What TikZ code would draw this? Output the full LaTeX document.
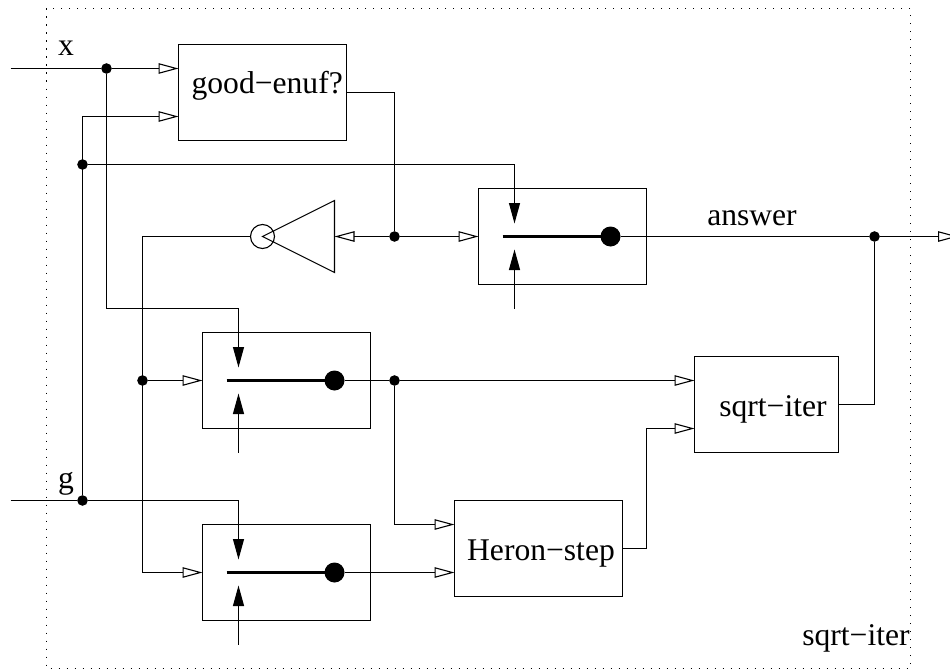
\documentclass[tikz,border=0pt]{standalone}
\usepackage{fontspec}
\setmainfont{Liberation Serif}
\usetikzlibrary{arrows.meta}

\begin{document}
\begin{tikzpicture}[x=1pt, y=-1pt, line width=1.1pt,
  every node/.style = {inner sep=0pt, outer sep=0pt,
    font=\fontsize{31.6}{36}\selectfont},
  unitbox/.style = {shape=rectangle, draw, minimum height=96pt},
  label/.style = {anchor=base},
  joint/.style = {shape=circle, fill=black, minimum size=10.6pt},
  knob/.style = {shape=circle, fill=black, minimum size=20pt},
  bubble/.style = {shape=circle, draw, minimum size=24pt},
  lever/.style = {line width=2.4pt},
  frame/.style = {line width=1.1pt, dash pattern=on 1.3pt off 6.7pt},
  openwire/.style = {-{Triangle[open, fill=white, length=20pt, width=10.5pt]}},
  solidwire/.style = {-{Triangle[length=20.5pt, width=11pt]}}]
  \useasboundingbox (0,0) rectangle (950,669);
  \draw[frame] (46.5,8.5) rectangle (910.5,668.3);

  \node[unitbox, minimum width=168pt] (goodenuf) at (262.5,92.5) {};
  \node[unitbox, minimum width=144pt] (sqrtiter) at (766.5,404.5) {};
  \node[unitbox, minimum width=168pt] (heron) at (538.5,548.5) {};
  \node[label] (goodenuftext) at (267.2,93) {good−enuf?};
  \node[label] (sqrtitertext) at (773,416.7) {sqrt−iter};
  \node[label] (herontext) at (541,560.7) {Heron−step};
  \node[label] (xtext) at (66,56) {x};
  \node[label] (gtext) at (66,488) {g};
  \node[label] (answertext) at (752,225) {answer};
  \node[label] (frametext) at (856,645) {sqrt−iter};

  \foreach \sw/\xx/\yy in {sa/562.5/236.5, sb/286.5/380.5, sc/286.5/572.5} {
    \node[unitbox, minimum width=168pt] (\sw) at (\xx,\yy) {};
    \node[knob] (\sw-knob) at ([xshift=48pt]\sw.center) {};
    \coordinate (\sw-start) at ([xshift=-60pt]\sw.center);
    \coordinate (\sw-up) at ([shift={(-48pt,13pt)}]\sw.center);
    \coordinate (\sw-low) at ([shift={(-48pt,-13pt)}]\sw.center);
    \coordinate (\sw-turn) at ([shift={(-48pt,72pt)}]\sw.center);
    \coordinate (\sw-foot) at ([shift={(-48pt,-72pt)}]\sw.center);
    \draw[lever] (\sw-start) -- (\sw-knob);
    \draw[solidwire] (\sw-foot) -- (\sw-low);
  }

  \coordinate (goodin) at (178.5,68.5);
  \coordinate (goodback) at (178.5,116.5);
  \coordinate (goodout) at (346.5,92.5);
  \coordinate (sqrtin) at (694.5,380.5);
  \coordinate (sqrtback) at (694.5,428.5);
  \coordinate (sqrtout) at (838.5,404.5);
  \coordinate (heronin) at (454.5,524.5);
  \coordinate (heronback) at (454.5,572.5);
  \coordinate (heronout) at (622.5,548.5);
  \coordinate (heronturn) at (646.5,548.5);
  \coordinate (xstart) at (10.5,68.5);
  \coordinate (gstart) at (10.5,500.5);
  \coordinate (gturn) at (82.5,116.5);
  \coordinate (notturn) at (142.5,236.5);
  \coordinate (output) at (958,236.5);

  \node[joint] (xjoint) at (106.5,68.5) {};
  \node[joint] (gjoint) at (82.5,500.5) {};
  \node[joint] (hijoint) at (82.5,164.5) {};
  \node[joint] (predjoint) at (394.5,236.5) {};
  \node[joint] (notjoint) at (142.5,380.5) {};
  \node[joint] (midjoint) at (394.5,380.5) {};
  \node[joint] (answerjoint) at (874.5,236.5) {};

  \coordinate (invbase) at (334.5,236.5);
  \coordinate (invtop) at (334.5,200.5);
  \coordinate (invlow) at (334.5,272.5);
  \node[bubble] (invout) at (262.5,236.5) {};
  \coordinate (invtip) at (262.5,236.5);
  \draw (invtop) -- (invlow) -- (invtip) -- cycle;

  \draw (xstart) -- (xjoint);
  \draw[openwire] (xjoint) -- (goodin);
  \draw[solidwire] (xjoint) |- (sb-turn) -- (sb-up);
  \draw (gstart) -- (gjoint);
  \draw[solidwire] (gjoint) -- (sc-turn) -- (sc-up);
  \draw[openwire] (gjoint) -- (gturn) -- (goodback);
  \draw[solidwire] (hijoint) -- (sa-turn) -- (sa-up);
  \draw (goodout) -| (predjoint);
  \draw[openwire] (predjoint) -- (invbase);
  \draw[openwire] (predjoint) -- (sa.west);
  \draw[openwire] (invout) -- (notturn) |- (sc.west);
  \draw[openwire] (notjoint) -- (sb.west);
  \draw (sa-knob) -- (answerjoint);
  \draw[openwire] (answerjoint) -- (output);
  \draw (sqrtout) -| (answerjoint);
  \draw (sb-knob) -- (midjoint);
  \draw[openwire] (midjoint) -- (sqrtin);
  \draw[openwire] (midjoint) |- (heronin);
  \draw[openwire] (sc-knob) -- (heronback);
  \draw[openwire] (heronout) -- (heronturn) |- (sqrtback);
\end{tikzpicture}
\end{document}
